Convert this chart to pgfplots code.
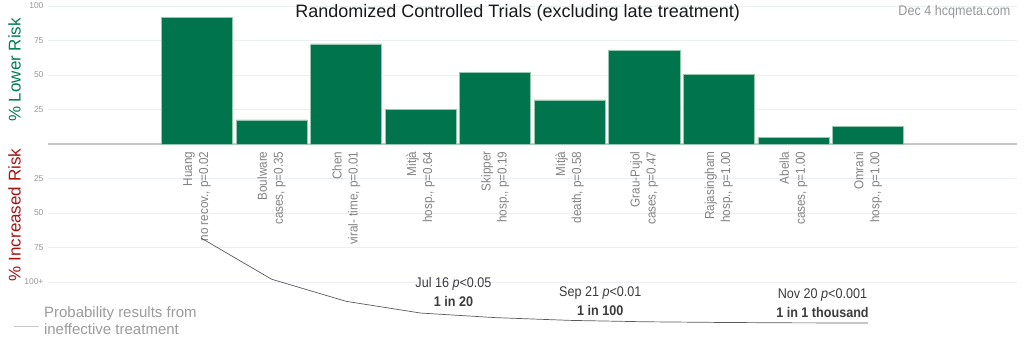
\documentclass[border=0pt]{standalone}
\usepackage{pgfplots}
\pgfplotsset{compat=1.18}
\usepackage{fontspec}
\setmainfont{Liberation Sans}
\newfontfamily\cond[FakeStretch=0.9]{Liberation Sans}
\definecolor{bargreen}{RGB}{0,116,76}
\definecolor{barline}{RGB}{150,200,175}
\definecolor{lowgreen}{RGB}{0,125,80}
\definecolor{incred}{RGB}{165,20,20}
\definecolor{tickgray}{RGB}{150,150,150}
\definecolor{labgray}{RGB}{130,130,130}
\definecolor{gridcol}{RGB}{236,238,245}
\definecolor{zerocol}{RGB}{200,200,200}
\definecolor{curvecol}{RGB}{90,90,90}
\definecolor{anncol}{RGB}{60,60,60}
\begin{document}
\begin{tikzpicture}
\path[use as bounding box] (-48pt,0pt) rectangle (976pt,341pt);
\begin{axis}[
  at={(0pt,0pt)}, anchor=south west,
  scale only axis, width=969pt, height=341pt,
  xmin=-2, xmax=11, ymin=-142.75, ymax=104.35,
  axis line style={draw=none},
  major tick length=0pt,
  ytick={-100,-75,-50,-25,25,50,75,100},
  yticklabels={100+,75,50,25,25,50,75,100},
  yticklabel style={font=\fontsize{8.5}{10}\selectfont, text=tickgray, xshift=-1pt},
  ymajorgrids, grid style={gridcol, line width=0.8pt},
  extra y ticks={0}, extra y tick labels={},
  extra y tick style={grid style={zerocol, line width=1.6pt}},
  xtick={0,1,2,3,4,5,6,7,8,9},
  xticklabels={{Huang\\no recov., p=0.02},{Boulware\\cases, p=0.35},{Chen\\viral- time, p=0.01},{Mitjà\\hosp., p=0.64},{Skipper\\hosp., p=0.19},{Mitjà\\death, p=0.58},{Grau-Pujol\\cases, p=0.47},{Rajasingham\\hosp., p=1.00},{Abella\\cases, p=1.00},{Omrani\\hosp., p=1.00}},
  xticklabel style={yshift=193pt, rotate=90, anchor=east, align=right, font=\cond\fontsize{13}{16}\selectfont, text=labgray},
  clip=false,
]
\addplot[ybar, bar width=0.953, fill=bargreen, draw=barline, line width=0.6pt]
  coordinates {(0,92) (1,17.4) (2,72.5) (3,25) (4,52) (5,32) (6,68) (7,50.5) (8,5) (9,12.5)};
\addplot[curvecol, line width=0.7pt, mark=none]
  coordinates {(0.05,-68) (1,-98) (2,-114) (3,-122.5) (4,-125.8) (5,-127.8) (6,-128.8) (7,-129.3) (8,-129.6) (9,-129.7)};
\node[font=\fontsize{18}{20}\selectfont, text=black!90] at (axis cs:4.3,94.9) {Randomized Controlled Trials (excluding late treatment)};
\node[anchor=east, font=\cond\fontsize{14}{16}\selectfont, text=tickgray] at (axis cs:10.96,95.5) {Dec 4 hcqmeta.com};
\node[rotate=90, font=\fontsize{17}{19}\selectfont, text=lowgreen] at (axis cs:-2.45,53.6) {\% Lower Risk};
\node[rotate=90, font=\fontsize{17}{19}\selectfont, text=incred] at (axis cs:-2.45,-51.4) {\% Increased Risk};
\node[align=center, font=\cond\fontsize{14}{19}\selectfont, text=anncol] at (axis cs:3.44,-107) {Jul 16 \textit{p}<0.05\\\textbf{1 in 20}};
\node[align=center, font=\cond\fontsize{14}{19}\selectfont, text=anncol] at (axis cs:5.41,-113.8) {Sep 21 \textit{p}<0.01\\\textbf{1 in 100}};
\node[align=center, font=\cond\fontsize{14}{19}\selectfont, text=anncol] at (axis cs:8.39,-115.2) {Nov 20 \textit{p}<0.001\\\textbf{1 in 1 thousand}};
\draw[zerocol, line width=1pt] (axis cs:-2.45,-132.5) -- (axis cs:-2.12,-132.5);
\node[anchor=west, align=left, font=\fontsize{15}{16.5}\selectfont, text=tickgray!95] at (axis cs:-2.1,-128) {Probability results from\\ineffective treatment};
\end{axis}
\end{tikzpicture}
\end{document}
